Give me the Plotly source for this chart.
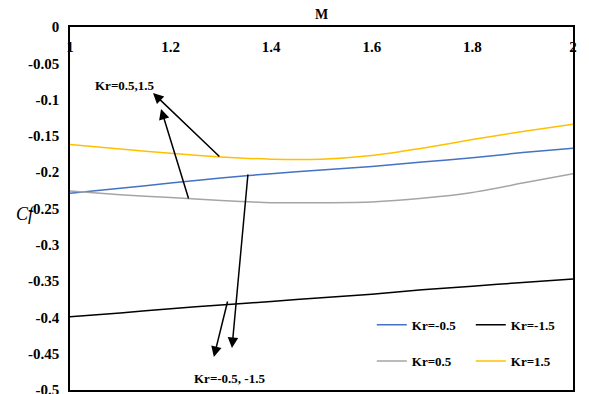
import plotly.graph_objects as go

M = [1.0, 1.1, 1.2, 1.3, 1.4, 1.5, 1.6, 1.7, 1.8, 1.9, 2.0]
kr_m05 = [-0.229, -0.222, -0.215, -0.208, -0.202, -0.197, -0.192, -0.186, -0.180, -0.173, -0.167]
kr_m15 = [-0.399, -0.394, -0.388, -0.383, -0.378, -0.373, -0.368, -0.362, -0.357, -0.352, -0.347]
kr_p05 = [-0.226, -0.231, -0.235, -0.239, -0.242, -0.242, -0.241, -0.236, -0.228, -0.215, -0.202]
kr_p15 = [-0.162, -0.168, -0.174, -0.179, -0.182, -0.182, -0.177, -0.167, -0.155, -0.144, -0.134]

xticks = [1, 1.2, 1.4, 1.6, 1.8, 2]
xticktext = ["1", "1.2", "1.4", "1.6", "1.8", "2"]
yticks = [0, -0.05, -0.1, -0.15, -0.2, -0.25, -0.3, -0.35, -0.4, -0.45, -0.5]
yticktext = ["0", "-0.05", "-0.1", "-0.15", "-0.2", "-0.25", "-0.3", "-0.35", "-0.4", "-0.45", "-0.5"]

FONT = "Liberation Serif"

fig = go.Figure()
fig.add_trace(go.Scatter(x=M, y=kr_m05, mode="lines", name="Kr=-0.5",
                         line=dict(color="#4472C4", width=1.5, shape="spline", smoothing=0.6), legend="legend"))
fig.add_trace(go.Scatter(x=M, y=kr_m15, mode="lines", name="Kr=-1.5",
                         line=dict(color="#000000", width=1.5, shape="spline", smoothing=0.6), legend="legend"))
fig.add_trace(go.Scatter(x=M, y=kr_p05, mode="lines", name="Kr=0.5",
                         line=dict(color="#A5A5A5", width=1.5, shape="spline", smoothing=0.6), legend="legend2"))
fig.add_trace(go.Scatter(x=M, y=kr_p15, mode="lines", name="Kr=1.5",
                         line=dict(color="#FFC000", width=1.5, shape="spline", smoothing=0.6), legend="legend2"))

legend_common = dict(orientation="h", entrywidth=54, entrywidthmode="pixels",
                     font=dict(family=FONT, size=13, color="black", weight="bold"),
                     bgcolor="rgba(0,0,0,0)", itemwidth=30, xanchor="left", yanchor="middle",
                     tracegroupgap=0)

arrow = dict(showarrow=True, arrowhead=2, arrowsize=1.4, arrowwidth=1.5, arrowcolor="black",
             axref="x", ayref="y", xref="x", yref="y", text="")

annotations = [
    dict(arrow, x=1.165, y=-0.0909, ax=1.300, ay=-0.1804),
    dict(arrow, x=1.181, y=-0.1129, ax=1.2366, ay=-0.2383),
    dict(arrow, x=1.322, y=-0.4421, ax=1.354, ay=-0.2011),
    dict(arrow, x=1.286, y=-0.4545, ax=1.314, ay=-0.376),
    dict(x=1.109, y=-0.0799, xref="x", yref="y", text="Kr=0.5,1.5", showarrow=False,
         font=dict(family=FONT, size=13, color="black", weight="bold")),
    dict(x=1.318, y=-0.4835, xref="x", yref="y", text="Kr=-0.5, -1.5", showarrow=False,
         font=dict(family=FONT, size=13, color="black", weight="bold")),
    dict(x=-0.087, y=0.486, xref="paper", yref="paper", xanchor="center", yanchor="middle",
         text="<i>Cf</i>", showarrow=False,
         font=dict(family=FONT, size=18, color="black")),
    # x-axis title "M" (placed above the top axis line)
    dict(x=0.5, y=1, xref="paper", yref="paper", xanchor="center", yanchor="middle",
         yshift=13, text="M", showarrow=False,
         font=dict(family=FONT, size=14, color="black", weight="bold")),
]

# the page body adds an 8 px offset, so margins are compensated to place the plot area
fig.update_layout(
    width=589, height=394,
    margin=dict(l=62, r=24, t=19, b=12, autoexpand=False),
    paper_bgcolor="white", plot_bgcolor="white",
    font=dict(family=FONT, color="black"),
    showlegend=True,
    legend=dict(legend_common, x=0.600, y=0.1795),
    legend2=dict(legend_common, x=0.600, y=0.0795),
    annotations=annotations,
    xaxis=dict(range=[1, 2], side="top", tickvals=xticks, ticktext=xticktext,
               ticklabelposition="inside", ticklabeloverflow="allow", ticklabelstandoff=15,
               showgrid=False, zeroline=False,
               showline=True, linecolor="black", linewidth=1.5, mirror=True, ticks="",
               tickfont=dict(family=FONT, size=15, color="black", weight="bold")),
    yaxis=dict(range=[-0.5, 0], tickvals=yticks, ticktext=yticktext, showgrid=False,
               zeroline=False, showline=True, linecolor="black", linewidth=1.5, mirror=True,
               ticks="", ticklabelstandoff=6, ticklabeloverflow="allow",
               tickfont=dict(family=FONT, size=15, color="black", weight="bold")),
)

fig.write_html("out.html")
